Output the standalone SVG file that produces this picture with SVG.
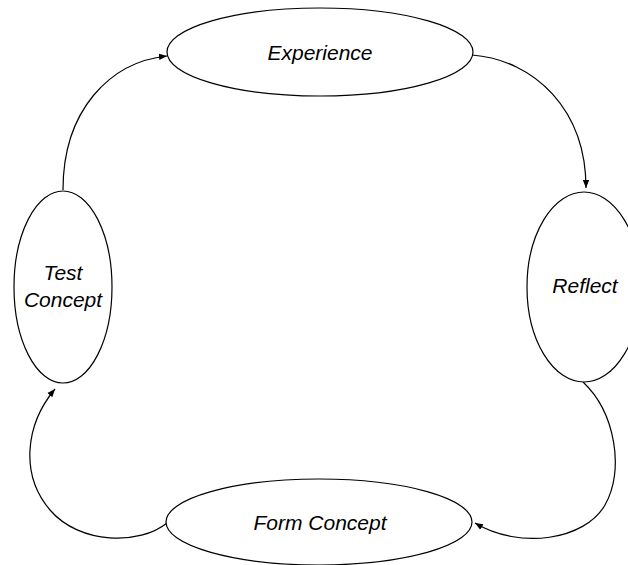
<svg xmlns="http://www.w3.org/2000/svg" width="628" height="565" viewBox="0 0 628 565">
<style>
.n{fill:#fff;stroke:#000;stroke-width:1.2}
.t{font-family:"Liberation Sans",Arial,sans-serif;font-style:italic;font-size:21px;fill:#000;text-anchor:middle}
.c{fill:none;stroke:#000;stroke-width:1.2;marker-end:url(#a)}
</style>
<defs>
<marker id="a" viewBox="0 0 10 10" refX="10" refY="5" markerWidth="8" markerHeight="8" markerUnits="userSpaceOnUse" orient="auto">
<path d="M0,1 L10,5 L0,9 Z" fill="#000"/>
</marker>
</defs>
<rect width="628" height="565" fill="#fff"/>
<g id="connectors">
<path class="c" d="M63,190 C63,110 110,62 167,56"/>
<path class="c" d="M472,55 C535,60 586,110 586,188"/>
<path class="c" d="M583,382 C615,412 625,470 605,505 C585,540 520,550 475,523"/>
<path class="c" d="M167,523 C140,545 80,545 50,510 C20,475 25,425 55,389"/>
</g>
<g id="experience">
<ellipse class="n" cx="320" cy="52" rx="153" ry="44"/>
<text class="t" x="320" y="60">Experience</text>
</g>
<g id="reflect">
<ellipse class="n" cx="584" cy="287" rx="57" ry="95"/>
<text class="t" x="585" y="293">Reflect</text>
</g>
<g id="form-concept">
<ellipse class="n" cx="319" cy="522" rx="153" ry="43"/>
<text class="t" x="320" y="530">Form Concept</text>
</g>
<g id="test-concept">
<ellipse class="n" cx="63" cy="287" rx="49" ry="96"/>
<text class="t" x="63" y="280">Test</text>
<text class="t" x="63" y="307">Concept</text>
</g>
</svg>
